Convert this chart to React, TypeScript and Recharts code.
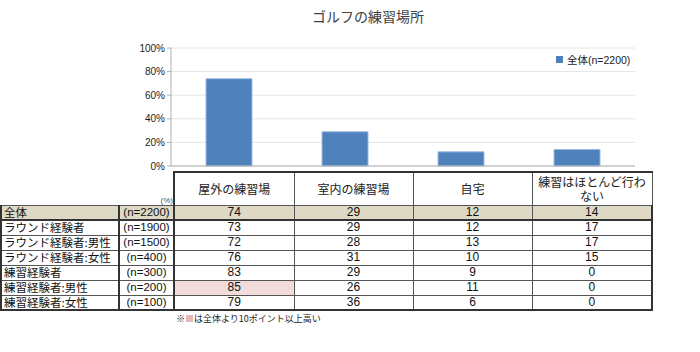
import { Bar, BarChart, CartesianGrid, Legend, XAxis, YAxis } from 'recharts'

// categories (bar x-axis + table columns)
const categories = ['屋外の練習場', '室内の練習場', '自宅', '練習はほとんど行わない']

// table rows
const rowLabels = [
  '全体',
  'ラウンド経験者',
  'ラウンド経験者:男性',
  'ラウンド経験者:女性',
  '練習経験者',
  '練習経験者:男性',
  '練習経験者:女性',
]
const rowN = [2200, 1900, 1500, 400, 300, 200, 100]
const outdoor = [74, 73, 72, 76, 83, 85, 79]
const indoor = [29, 29, 28, 31, 29, 26, 36]
const home = [12, 12, 13, 10, 9, 11, 6]
const rarely = [14, 17, 17, 15, 0, 0, 0]

const yTicks = [0, 20, 40, 60, 80, 100]

const columns = [outdoor, indoor, home, rarely]
const seriesName = `全体(n=${rowN[0]})`

// chart shows the 全体 row
const chartData = categories.map((c, i) => ({ name: c, value: columns[i][0] }))

const font = '"Liberation Sans", Arial, "Noto Sans CJK JP", sans-serif'
const jp = '"Noto Sans CJK JP", sans-serif'
const line = '1px solid #555'
const thick = '2px solid #333'

export default function App() {
  return (
    <div style={{ position: 'absolute', left: 0, top: 0, width: 700, height: 352, fontFamily: font, background: '#fff' }}>
      <div style={{ position: 'absolute', left: 312, top: 6, fontSize: 14, color: '#404040', fontFamily: jp }}>
        ゴルフの練習場所
      </div>

      <div style={{ position: 'absolute', left: 0, top: 0 }}>
        <BarChart width={700} height={172} data={chartData} margin={{ top: 48, right: 65, left: 111, bottom: 5 }}>
          <CartesianGrid vertical={false} stroke="#e4e4e4" />
          <XAxis dataKey="name" tick={false} tickLine={false} height={1} axisLine={{ stroke: '#b0b0b0' }} />
          <YAxis
            domain={[0, 100]}
            ticks={yTicks}
            width={60}
            tickFormatter={(v) => `${v}%`}
            tick={{ fontSize: 10, fill: '#222', fontFamily: font }}
            tickSize={4}
            tickLine={{ stroke: '#b0b0b0' }}
            axisLine={{ stroke: '#b0b0b0' }}
          />
          <YAxis yAxisId="r" orientation="right" domain={[0, 100]} width={0} tick={false} tickLine={false} axisLine={{ stroke: '#c0c0c0' }} />
          <Legend
            layout="horizontal"
            verticalAlign="middle"
            align="center"
            iconType="square"
            iconSize={7}
            formatter={(v) => <span style={{ color: '#222', fontSize: 10.5 }}>{v}</span>}
            wrapperStyle={{ top: 50, left: 556, width: 'auto', fontFamily: font }}
          />
          <Bar dataKey="value" name={seriesName} fill="#4f81bd" stroke="#9dbbe0" barSize={46} isAnimationActive={false} />
        </BarChart>
      </div>

      <table
        style={{
          position: 'absolute',
          left: 0,
          top: 171,
          borderCollapse: 'collapse',
          tableLayout: 'fixed',
          width: 651,
          fontSize: 12,
          color: '#111',
        }}
      >
        <colgroup>
          <col style={{ width: 118 }} />
          <col style={{ width: 55 }} />
          <col style={{ width: 120 }} />
          <col style={{ width: 119 }} />
          <col style={{ width: 119 }} />
          <col style={{ width: 120 }} />
        </colgroup>
        <tbody>
          <tr style={{ height: 33 }}>
            <td style={{ padding: 0 }} />
            <td style={{ padding: 0, textAlign: 'right', verticalAlign: 'bottom', fontSize: 8, color: '#555', borderRight: thick }}>(%)</td>
            {categories.map((c) => (
              <td
                key={c}
                style={{
                  border: line,
                  borderTop: thick,
                  textAlign: 'center',
                  verticalAlign: 'middle',
                  padding: '0 4px',
                  lineHeight: '14px',
                  fontFamily: jp,
                  color: '#222',
                }}
              >
                {c}
              </td>
            ))}
          </tr>
          {rowLabels.map((label, r) => {
            const bg = r === 0 ? '#ddd9c4' : '#fff'
            const bottom = r === 0 || r === rowLabels.length - 1 ? thick : line
            return (
              <tr key={label} style={{ height: 15, background: bg }}>
                <td
                  style={{
                    border: line,
                    borderLeft: thick,
                    borderRight: thick,
                    borderBottom: bottom,
                    padding: '0 0 0 2px',
                    lineHeight: '13px',
                    whiteSpace: 'nowrap',
                    overflow: 'hidden',
                    fontSize: 11.5,
                    fontFamily: jp,
                  }}
                >
                  {label}
                </td>
                <td
                  style={{
                    border: line,
                    borderRight: thick,
                    borderBottom: bottom,
                    textAlign: 'center',
                    padding: 0,
                    lineHeight: '13px',
                    fontSize: 11.5,
                    whiteSpace: 'nowrap',
                  }}
                >
                  (n={rowN[r]})
                </td>
                {columns.map((col, c) => {
                  const hi = r > 0 && col[r] - col[0] >= 10
                  return (
                    <td
                      key={c}
                      style={{
                        border: line,
                        borderRight: c === columns.length - 1 ? thick : line,
                        borderBottom: bottom,
                        textAlign: 'center',
                        padding: 0,
                        lineHeight: '13px',
                        background: hi ? '#f2dcdb' : undefined,
                      }}
                    >
                      {col[r]}
                    </td>
                  )
                })}
              </tr>
            )
          })}
        </tbody>
      </table>

      <div style={{ position: 'absolute', left: 176, top: 312, fontSize: 9, color: '#222', fontFamily: jp }}>
        ※<span style={{ display: 'inline-block', width: 7, height: 7, background: '#e6b8b7', margin: '0 1px' }} />は全体より10ポイント以上高い
      </div>
    </div>
  )
}
